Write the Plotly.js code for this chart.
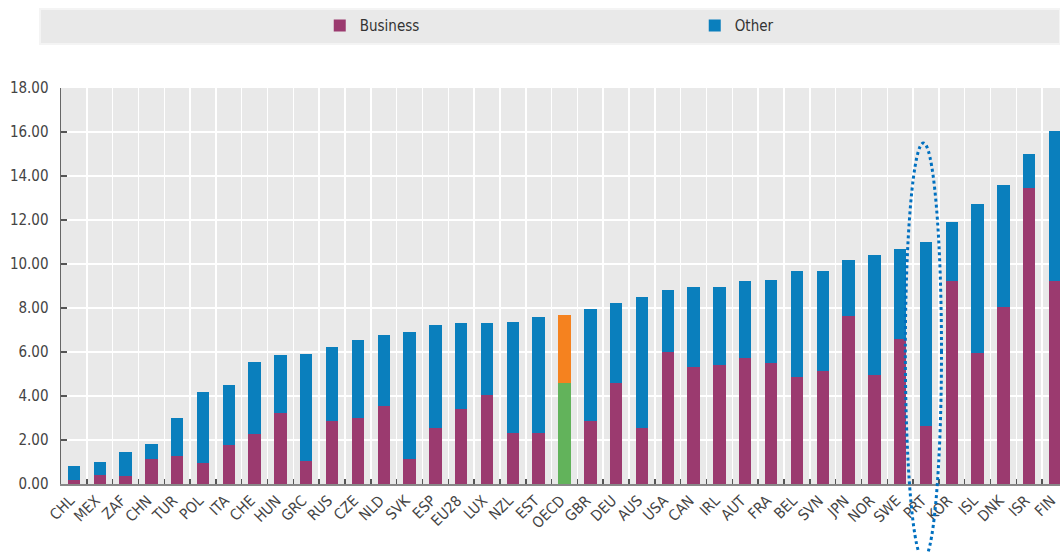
<!DOCTYPE html>
<html>
<head>
<meta charset="utf-8">
<script src="https://cdn.plot.ly/plotly-3.0.1.min.js"></script>
<style>html,body{margin:0;padding:0;background:#fff;}#chart{width:1060px;height:552px;}</style>
</head>
<body>
<div id="chart"></div>
<script>
const categories = ["CHL","MEX","ZAF","CHN","TUR","POL","ITA","CHE","HUN","GRC","RUS","CZE","NLD","SVK","ESP","EU28","LUX","NZL","EST","OECD","GBR","DEU","AUS","USA","CAN","IRL","AUT","FRA","BEL","SVN","JPN","NOR","SWE","PRT","KOR","ISL","DNK","ISR","FIN"];
const business = [0.20,0.39,0.35,1.14,1.29,0.95,1.76,2.26,3.23,1.06,2.85,3.00,3.56,1.14,2.55,3.41,4.06,2.32,2.32,4.59,2.85,4.59,2.55,6.00,5.30,5.42,5.74,5.52,4.86,5.12,7.62,4.97,6.59,2.65,9.21,5.95,8.03,13.45,9.21];
const other = [0.60,0.61,1.09,0.68,1.71,3.22,2.74,3.27,2.62,4.85,3.38,3.56,3.23,5.75,4.66,3.91,3.26,5.06,5.27,3.11,5.12,3.65,5.95,2.83,3.64,3.52,3.47,3.74,4.84,4.58,2.58,5.45,4.09,8.35,2.70,6.79,5.57,1.57,6.85];
const highlightCat = "OECD";
const circledCat = "PRT";

const FONT = "'Liberation Sans Narrow','DejaVu Sans Condensed','Arial Narrow',sans-serif";
const cBus = "#9b3a6f", cOth = "#0a7fbd", cBusH = "#62b35b", cOthH = "#f5821f";

const traces = [
  {type:"bar", name:"Business", x:categories, y:business,
   marker:{color:categories.map(c => c === highlightCat ? cBusH : cBus)}},
  {type:"bar", name:"Other", x:categories, y:other,
   marker:{color:categories.map(c => c === highlightCat ? cOthH : cOth)}}
];

const pi = categories.indexOf(circledCat);
const layout = {
  width:1060, height:552,
  margin:{l:61, r:0, t:88, b:68, pad:0, autoexpand:false},
  barmode:"stack", bargap:0.52,
  paper_bgcolor:"#ffffff", plot_bgcolor:"#e9e9e9",
  font:{family:FONT, size:15, color:"#444"},
  showlegend:true,
  legend:{orientation:"h", x:0.259, xanchor:"left", y:1.157, yanchor:"middle",
          bgcolor:"rgba(0,0,0,0)", entrywidth:330, font:{family:FONT, size:15, color:"#333"},
          traceorder:"normal"},
  xaxis:{type:"category", range:[-0.5, 38.19], tickson:"boundaries",
         showgrid:true, gridcolor:"#ffffff", gridwidth:1.5,
         ticks:"inside", ticklen:5, tickcolor:"#555", tickwidth:1.5,
         showline:true, linecolor:"#888", linewidth:2,
         tickangle:-45, ticklabelshift:-4,
         tickfont:{family:FONT, size:15, color:"#444"}, automargin:false},
  yaxis:{range:[0,18], dtick:2, tickformat:".2f",
         showgrid:true, gridcolor:"#ffffff", gridwidth:1.5, zeroline:false,
         ticks:"inside", ticklen:6, tickcolor:"#555", tickwidth:1.5,
         showline:true, linecolor:"#666", linewidth:1.5,
         ticklabelstandoff:8,
         tickfont:{family:FONT, size:15, color:"#444"}, automargin:false},
  shapes:[
    {type:"rect", xref:"paper", yref:"paper", x0:-0.021, x1:1.0, y0:1.111, y1:1.1995,
     fillcolor:"#e9e9e9", line:{color:"#f4f4f4", width:2}, layer:"below"},
    {type:"circle", xref:"x", yref:"paper", x0:pi-0.8, x1:pi+0.6, y0:-0.19, y1:0.861,
     line:{color:"#0070c0", width:3, dash:"dot"}, fillcolor:"rgba(0,0,0,0)"}
  ]
};

Plotly.newPlot("chart", traces, layout, {displayModeBar:false, staticPlot:true});
</script>
</body>
</html>
